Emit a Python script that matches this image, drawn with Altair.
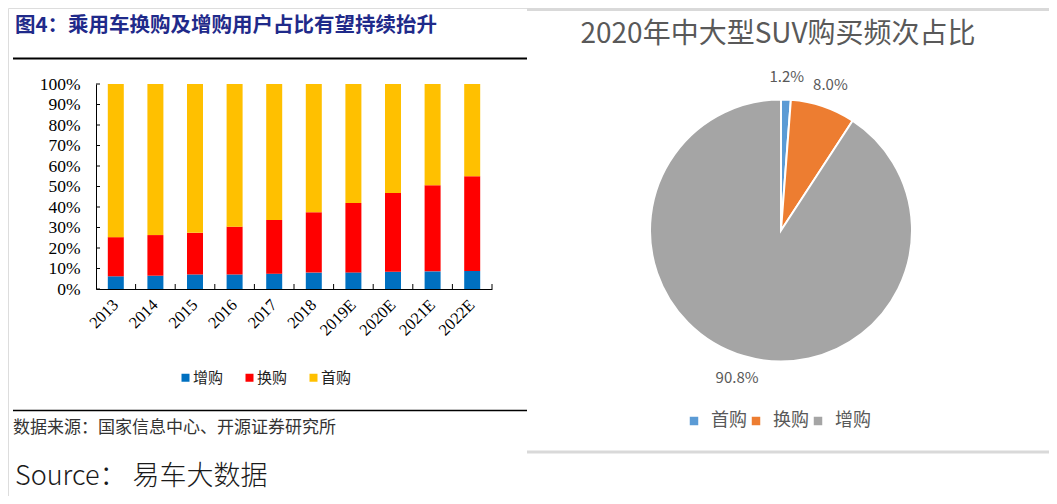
import altair as alt
import pandas as pd

# ---------------- data ----------------
years = ['2013', '2014', '2015', '2016', '2017', '2018', '2019E', '2020E', '2021E', '2022E']
zenggou = [6.2, 6.5, 7.1, 7.1, 7.5, 8.0, 8.1, 8.4, 8.6, 8.8]          # 增购
huangou = [19.1, 19.8, 20.3, 23.3, 26.1, 29.5, 33.9, 38.4, 42.0, 46.2]  # 换购
shougou = [74.7, 73.7, 72.6, 69.6, 66.4, 62.5, 58.0, 53.2, 49.4, 45.0]  # 首购
bar_types = ['增购', '换购', '首购']
bar_colors = ['#0070C0', '#FF0000', '#FFC000']
y_ticks = [0, 10, 20, 30, 40, 50, 60, 70, 80, 90, 100]

pie_types = ['首购', '换购', '增购']
pie_values = [1.2, 8.0, 90.8]
pie_colors = ['#5B9BD5', '#ED7D31', '#A5A5A5']

left_title = '图4：乘用车换购及增购用户占比有望持续抬升'
left_source = '数据来源：国家信息中心、开源证券研究所'
bottom_source = 'Source： 易车大数据'
right_title = '2020年中大型SUV购买频次占比'

CJK = 'Noto Sans CJK SC'
SERIF = 'Liberation Serif'

# ---------------- tables ----------------
rows = []
for i, y in enumerate(years):
    for k, (t, vals) in enumerate(zip(bar_types, [zenggou, huangou, shougou])):
        rows.append({'year': y, 'type': t, 'value': vals[i], 'ord': k})
bar_df = pd.DataFrame(rows)
pie_df = pd.DataFrame({'ptype': pie_types, 'pvalue': pie_values, 'pord': [0, 1, 2]})

one = pd.DataFrame({'d': [0]})

# ---------------- left: stacked bars ----------------
bars = alt.Chart(bar_df).mark_bar(size=16).encode(
    x=alt.X('year:N',
            scale=alt.Scale(domain=years, range=[88, 484], paddingInner=0, paddingOuter=0),
            axis=alt.Axis(title=None, orient='bottom', offset=-207, ticks=False,
                          domainColor='black', domainWidth=1,
                          labelAngle=-45, labelAlign='right', labelBaseline='middle',
                          labelPadding=13, labelFont=SERIF, labelFontSize=16.5,
                          labelColor='black')),
    y=alt.Y('value:Q', stack='zero',
            scale=alt.Scale(domain=[0, 100], range=[281, 76], nice=False),
            axis=alt.Axis(title=None, orient='left', offset=-88, values=y_ticks,
                          ticks=False, grid=False, domainColor='black', domainWidth=1,
                          labelExpr="datum.value + '%'", labelFont=SERIF,
                          labelFontSize=17.5, labelPadding=16, labelColor='black')),
    color=alt.Color('type:N',
                    scale=alt.Scale(domain=bar_types, range=bar_colors),
                    legend=alt.Legend(title=None, orient='none', legendX=170, legendY=362,
                                      direction='horizontal', symbolType='square',
                                      symbolSize=64, symbolStrokeWidth=0,
                                      labelFont=CJK, labelFontSize=15, labelColor='#222',
                                      labelOffset=0, columnPadding=18)),
    order=alt.Order('ord:Q'),
)

xticks = alt.Chart(pd.DataFrame({'year': years})).mark_rule(color='black', strokeWidth=1).encode(
    x=alt.X('year:N', bandPosition=1),
    y=alt.value(276), y2=alt.value(281),
)

yticks = alt.Chart(pd.DataFrame({'v': y_ticks})).mark_rule(color='black', strokeWidth=1).encode(
    y=alt.Y('v:Q'),
    x=alt.value(88), x2=alt.value(92),
)

# ---------------- right: pie ----------------
CX, CY = 773, 222.5
pie_base = alt.Chart(pie_df).transform_calculate(
    label="format(datum.pvalue, '.1f') + '%'"
).encode(
    theta=alt.Theta('pvalue:Q', stack=True),
    order=alt.Order('pord:Q'),
)
arcs = pie_base.mark_arc(radius=131, stroke='white', strokeWidth=2).encode(
    color=alt.Color('ptype:N',
                    scale=alt.Scale(domain=pie_types, range=pie_colors),
                    legend=alt.Legend(title=None, orient='none', legendX=677, legendY=404,
                                      direction='horizontal', symbolType='square',
                                      symbolSize=72, symbolStrokeWidth=0,
                                      labelFont=CJK, labelFontSize=18, labelColor='#595959',
                                      labelOffset=8, columnPadding=0)),
    x=alt.value(CX), y=alt.value(CY),
)
pie_labels = pie_base.mark_text(radius=154, font=CJK, fontSize=15, color='#595959').encode(
    text='label:N', detail='ptype:N',
    x=alt.value(CX), y=alt.value(CY),
)

# ---------------- decorations ----------------
def hline(x1, x2, y, color, w):
    return alt.Chart(one).mark_rule(color=color, strokeWidth=w).encode(
        x=alt.value(x1), x2=alt.value(x2), y=alt.value(y))

def label(txt, x, y, size, color, font=CJK, weight='normal', align='left'):
    return alt.Chart(pd.DataFrame({'t': [txt]})).mark_text(
        align=align, baseline='middle', font=font, fontSize=size, color=color,
        fontWeight=weight).encode(text='t:N', x=alt.value(x), y=alt.value(y))

decor = [
    hline(5, 519, 50.5, 'black', 2),
    hline(5, 519, 402.5, 'black', 1.5),
    hline(519, 1041, 1.5, '#D9D9D9', 3),
    hline(519, 1041, 444, '#D9D9D9', 3),
    label(left_title, 7, 17.5, 20.5, '#1F2A8A', weight='bold'),
    label(left_source, 5, 420, 17, '#333333'),
    label(bottom_source, 7, 469, 27, '#1a1a1a', weight=300),
    label(right_title, 770, 27, 28, '#595959', align='center'),
]

chart = alt.layer(bars, xticks, yticks, arcs, pie_labels, *decor).resolve_scale(
    color='independent'
).properties(
    width=1041, height=488, padding=0,
    autosize=alt.AutoSizeParams(type='none'),
).configure_view(strokeWidth=0).configure(background='white')

chart.save('out.html', embed_options={'renderer': 'svg', 'actions': False})
